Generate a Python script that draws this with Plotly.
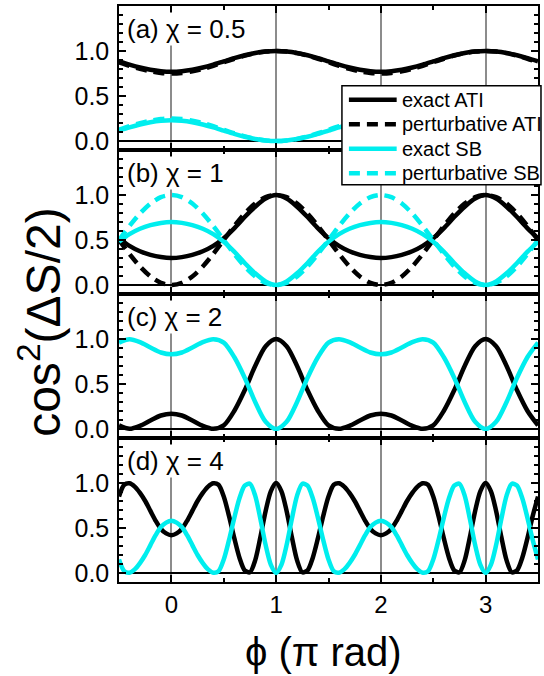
import plotly.graph_objects as go
from plotly.subplots import make_subplots

# ---------------- data ----------------
x_coarse = [-0.5, -0.4, -0.3, -0.2, -0.1, 0.0, 0.1, 0.2, 0.3, 0.4, 0.5, 0.6, 0.7, 0.8, 0.9, 1.0,
            1.1, 1.2, 1.3, 1.4, 1.5, 1.6, 1.7, 1.8, 1.9, 2.0, 2.1, 2.2, 2.3, 2.4, 2.5, 2.6, 2.7,
            2.8, 2.9, 3.0, 3.1, 3.2, 3.3, 3.4, 3.5]

x_fine = [-0.5, -0.45, -0.4, -0.35, -0.3, -0.25, -0.2, -0.15, -0.1, -0.05,
          0.0, 0.05, 0.1, 0.15, 0.2, 0.25, 0.3, 0.35, 0.4, 0.45, 0.5, 0.55, 0.6, 0.65, 0.7, 0.75,
          0.8, 0.85, 0.9, 0.95, 1.0, 1.05, 1.1, 1.15, 1.2, 1.25, 1.3, 1.35, 1.4, 1.45, 1.5, 1.55,
          1.6, 1.65, 1.7, 1.75, 1.8, 1.85, 1.9, 1.95, 2.0, 2.05, 2.1, 2.15, 2.2, 2.25, 2.3, 2.35,
          2.4, 2.45, 2.5, 2.55, 2.6, 2.65, 2.7, 2.75, 2.8, 2.85, 2.9, 2.95, 3.0, 3.05, 3.1, 3.15,
          3.2, 3.25, 3.3, 3.35, 3.4, 3.45, 3.5]

# (a) chi = 0.5
ati_exact_a = [0.885, 0.849, 0.817, 0.792, 0.776, 0.770, 0.776, 0.792, 0.817, 0.849, 0.885, 0.921, 0.953, 0.978, 0.994, 1.000,
               0.994, 0.978, 0.953, 0.921, 0.885, 0.849, 0.817, 0.792, 0.776, 0.770, 0.776, 0.792, 0.817, 0.849,
               0.885, 0.921, 0.953, 0.978, 0.994, 1.000, 0.994, 0.978, 0.953, 0.921, 0.885]
ati_pert_a = [0.875, 0.836, 0.801, 0.774, 0.756, 0.750, 0.756, 0.774, 0.801, 0.836, 0.875, 0.914, 0.949, 0.976, 0.994, 1.000,
              0.994, 0.976, 0.949, 0.914, 0.875, 0.836, 0.801, 0.774, 0.756, 0.750, 0.756, 0.774, 0.801, 0.836,
              0.875, 0.914, 0.949, 0.976, 0.994, 1.000, 0.994, 0.976, 0.949, 0.914, 0.875]
sb_exact_a = [0.115, 0.151, 0.183, 0.208, 0.224, 0.230, 0.224, 0.208, 0.183, 0.151, 0.115, 0.079, 0.047, 0.022, 0.006, 0.000,
              0.006, 0.022, 0.047, 0.079, 0.115, 0.151, 0.183, 0.208, 0.224, 0.230, 0.224, 0.208, 0.183, 0.151,
              0.115, 0.079, 0.047, 0.022, 0.006, 0.000, 0.006, 0.022, 0.047, 0.079, 0.115]
sb_pert_a = [0.125, 0.164, 0.199, 0.226, 0.244, 0.250, 0.244, 0.226, 0.199, 0.164, 0.125, 0.086, 0.051, 0.024, 0.006, 0.000,
             0.006, 0.024, 0.051, 0.086, 0.125, 0.164, 0.199, 0.226, 0.244, 0.250, 0.244, 0.226, 0.199, 0.164,
             0.125, 0.086, 0.051, 0.024, 0.006, 0.000, 0.006, 0.024, 0.051, 0.086, 0.125]

# (b) chi = 1
ati_exact_b = [0.52, 0.435, 0.375, 0.335, 0.31, 0.30, 0.31, 0.335, 0.375, 0.435, 0.52, 0.63, 0.755, 0.87, 0.96, 1.00,
               0.96, 0.87, 0.755, 0.63, 0.52, 0.435, 0.375, 0.335, 0.31, 0.30, 0.31, 0.335, 0.375, 0.435,
               0.52, 0.63, 0.755, 0.87, 0.96, 1.00, 0.96, 0.87, 0.755, 0.63, 0.52]
ati_pert_b = [0.500, 0.345, 0.206, 0.095, 0.024, 0.000, 0.024, 0.095, 0.206, 0.345, 0.500, 0.655, 0.794, 0.905, 0.976, 1.000,
              0.976, 0.905, 0.794, 0.655, 0.500, 0.345, 0.206, 0.095, 0.024, 0.000, 0.024, 0.095, 0.206, 0.345,
              0.500, 0.655, 0.794, 0.905, 0.976, 1.000, 0.976, 0.905, 0.794, 0.655, 0.500]
sb_exact_b = [0.48, 0.565, 0.625, 0.665, 0.69, 0.70, 0.69, 0.665, 0.625, 0.565, 0.48, 0.37, 0.245, 0.13, 0.04, 0.00,
              0.04, 0.13, 0.245, 0.37, 0.48, 0.565, 0.625, 0.665, 0.69, 0.70, 0.69, 0.665, 0.625, 0.565,
              0.48, 0.37, 0.245, 0.13, 0.04, 0.00, 0.04, 0.13, 0.245, 0.37, 0.48]
sb_pert_b = [0.500, 0.655, 0.794, 0.905, 0.976, 1.000, 0.976, 0.905, 0.794, 0.655, 0.500, 0.345, 0.206, 0.095, 0.024, 0.000,
             0.024, 0.095, 0.206, 0.345, 0.500, 0.655, 0.794, 0.905, 0.976, 1.000, 0.976, 0.905, 0.794, 0.655,
             0.500, 0.345, 0.206, 0.095, 0.024, 0.000, 0.024, 0.095, 0.206, 0.345, 0.500]

# (c) chi = 2
ati_exact_c = [0.04, 0.002, 0.035, 0.095, 0.15, 0.17, 0.15, 0.095, 0.035, 0.002, 0.04, 0.20, 0.43, 0.70, 0.92, 1.00,
               0.92, 0.70, 0.43, 0.20, 0.04, 0.002, 0.035, 0.095, 0.15, 0.17, 0.15, 0.095, 0.035, 0.002,
               0.04, 0.20, 0.43, 0.70, 0.92, 1.00, 0.92, 0.70, 0.43, 0.20, 0.04]
sb_exact_c = [0.96, 0.998, 0.965, 0.905, 0.85, 0.83, 0.85, 0.905, 0.965, 0.998, 0.96, 0.80, 0.57, 0.30, 0.08, 0.00,
              0.08, 0.30, 0.57, 0.80, 0.96, 0.998, 0.965, 0.905, 0.85, 0.83, 0.85, 0.905, 0.965, 0.998,
              0.96, 0.80, 0.57, 0.30, 0.08, 0.00, 0.08, 0.30, 0.57, 0.80, 0.96]

# (d) chi = 4
ati_exact_d = [0.85, 0.98, 0.997, 0.96, 0.89, 0.80, 0.69, 0.58, 0.49, 0.44,
               0.42, 0.44, 0.49, 0.58, 0.69, 0.80, 0.89, 0.96, 0.997, 0.98, 0.85, 0.635, 0.39, 0.17, 0.03, 0.008,
               0.14, 0.40, 0.69, 0.91, 1.00,
               0.91, 0.69, 0.40, 0.14, 0.008, 0.03, 0.17, 0.39, 0.635, 0.85, 0.98, 0.997, 0.96, 0.89, 0.80,
               0.69, 0.58, 0.49, 0.44, 0.42,
               0.44, 0.49, 0.58, 0.69, 0.80, 0.89, 0.96, 0.997, 0.98, 0.85, 0.635, 0.39, 0.17, 0.03, 0.008,
               0.14, 0.40, 0.69, 0.91, 1.00,
               0.91, 0.69, 0.40, 0.14, 0.008, 0.03, 0.17, 0.39, 0.635, 0.85]
sb_exact_d = [0.15, 0.02, 0.003, 0.04, 0.11, 0.20, 0.31, 0.42, 0.51, 0.56,
              0.58, 0.56, 0.51, 0.42, 0.31, 0.20, 0.11, 0.04, 0.003, 0.02, 0.15, 0.365, 0.61, 0.83, 0.97, 0.992,
              0.86, 0.60, 0.31, 0.09, 0.00,
              0.09, 0.31, 0.60, 0.86, 0.992, 0.97, 0.83, 0.61, 0.365, 0.15, 0.02, 0.003, 0.04, 0.11, 0.20,
              0.31, 0.42, 0.51, 0.56, 0.58,
              0.56, 0.51, 0.42, 0.31, 0.20, 0.11, 0.04, 0.003, 0.02, 0.15, 0.365, 0.61, 0.83, 0.97, 0.992,
              0.86, 0.60, 0.31, 0.09, 0.00,
              0.09, 0.31, 0.60, 0.86, 0.992, 0.97, 0.83, 0.61, 0.365, 0.15]

panel_labels = ["(a) χ = 0.5", "(b) χ = 1", "(c) χ = 2", "(d) χ = 4"]
series_names = ["exact ATI", "perturbative ATI", "exact SB", "perturbative SB"]
x_ticks = [0, 1, 2, 3]
y_ticks = [0.0, 0.5, 1.0]
y_ticktext = ["0.0", "0.5", "1.0"]

# ---------------- styling ----------------
FONT = "Liberation Sans, Arial, Helvetica, sans-serif"
BLACK = "#000000"
CYAN = "#00EEEE"
LW = 4.5
DASH = "11px,7px"
W, H = 544, 676
ML, MR, MT, MB = 119, 4, 5, 94
PW, PH = W - ML - MR, H - MT - MB


def px_x(px):
    return (px - ML) / PW


def px_y(py):
    return (H - MB - py) / PH


fig = make_subplots(rows=4, cols=1, vertical_spacing=0)

panels = [
    (x_coarse, [(ati_exact_a, 0), (ati_pert_a, 1), (sb_exact_a, 2), (sb_pert_a, 3)]),
    (x_coarse, [(ati_exact_b, 0), (ati_pert_b, 1), (sb_exact_b, 2), (sb_pert_b, 3)]),
    (x_coarse, [(ati_exact_c, 0), (sb_exact_c, 2)]),
    (x_fine, [(ati_exact_d, 0), (sb_exact_d, 2)]),
]
colors = [BLACK, BLACK, CYAN, CYAN]
dashes = ["solid", DASH, "solid", DASH]

for r, (xs, series) in enumerate(panels, start=1):
    for ys, k in series:
        fig.add_trace(go.Scatter(
            x=xs, y=ys, mode="lines", name=series_names[k],
            line=dict(color=colors[k], width=LW, dash=dashes[k], shape="spline", smoothing=0.8),
            showlegend=False, hoverinfo="skip"),
            row=r, col=1)

for r in range(1, 5):
    fig.update_xaxes(
        range=[-0.5, 3.5], tickmode="array", tickvals=x_ticks,
        ticks="inside", ticklen=7, tickwidth=1.5, tickcolor=BLACK,
        showline=True, linecolor=BLACK, linewidth=1.5, mirror="ticks",
        showgrid=True, gridcolor="#8c8c8c", gridwidth=1.5, zeroline=False,
        minor=dict(tickmode="linear", tick0=0, dtick=0.5, ticks="inside", ticklen=4,
                   tickwidth=1.5, tickcolor=BLACK, showgrid=False),
        showticklabels=(r == 4), tickfont=dict(family=FONT, size=24, color=BLACK),
        ticklabelstandoff=0,
        row=r, col=1)
    fig.update_yaxes(
        range=[-0.1, 1.5], tickmode="array", tickvals=y_ticks, ticktext=y_ticktext,
        ticks="inside", ticklen=7, tickwidth=1.5, tickcolor=BLACK,
        showline=True, linecolor=BLACK, linewidth=1.5, mirror="ticks",
        showgrid=False, zeroline=True, zerolinecolor=BLACK, zerolinewidth=1.5,
        minor=dict(tickmode="linear", tick0=0, dtick=0.1, ticks="inside", ticklen=4,
                   tickwidth=1.5, tickcolor=BLACK, showgrid=False),
        tickfont=dict(family=FONT, size=25, color=BLACK),
        ticklabelstandoff=3,
        row=r, col=1)

annotations = []
for r, lab in enumerate(panel_labels, start=1):
    sfx = "" if r == 1 else str(r)
    annotations.append(dict(
        text=lab, xref=f"x{sfx} domain", yref=f"y{sfx} domain", x=0, y=1,
        xanchor="left", yanchor="top", xshift=6, yshift=-6, showarrow=False,
        bgcolor="white", borderpad=1, font=dict(family=FONT, size=26, color=BLACK)))

annotations.append(dict(
    text="cos<sup>2</sup>(ΔS/2)", xref="paper", yref="paper", x=px_x(40), y=px_y(322),
    xanchor="center", yanchor="middle", textangle=-90, showarrow=False,
    font=dict(family=FONT, size=48, color=BLACK)))
annotations.append(dict(
    text="ϕ (π rad)", xref="paper", yref="paper", x=px_x(324), y=px_y(652),
    xanchor="center", yanchor="middle", showarrow=False,
    font=dict(family=FONT, size=40, color=BLACK)))

# legend (drawn as a framed key, as in the reference)
shapes = [dict(type="rect", xref="paper", yref="paper",
               x0=px_x(343), x1=px_x(543), y0=px_y(184), y1=px_y(85),
               line=dict(color=BLACK, width=1.5), fillcolor="white", layer="above")]
row_y = [99, 123.5, 148, 172.5]
for k, name in enumerate(series_names):
    shapes.append(dict(type="line", xref="paper", yref="paper",
                       x0=px_x(350), x1=px_x(398), y0=px_y(row_y[k]), y1=px_y(row_y[k]),
                       line=dict(color=colors[k], width=LW, dash=dashes[k]), layer="above"))
    annotations.append(dict(
        text=name, xref="paper", yref="paper", x=px_x(401), y=px_y(row_y[k]),
        xanchor="left", yanchor="middle", showarrow=False,
        font=dict(family=FONT, size=20, color=BLACK)))

fig.update_layout(
    width=W, height=H,
    margin=dict(l=ML, r=MR, t=MT, b=MB),
    paper_bgcolor="white", plot_bgcolor="white",
    font=dict(family=FONT, color=BLACK),
    annotations=annotations,
    shapes=shapes,
    showlegend=False,
)

fig.write_html("out.html")
